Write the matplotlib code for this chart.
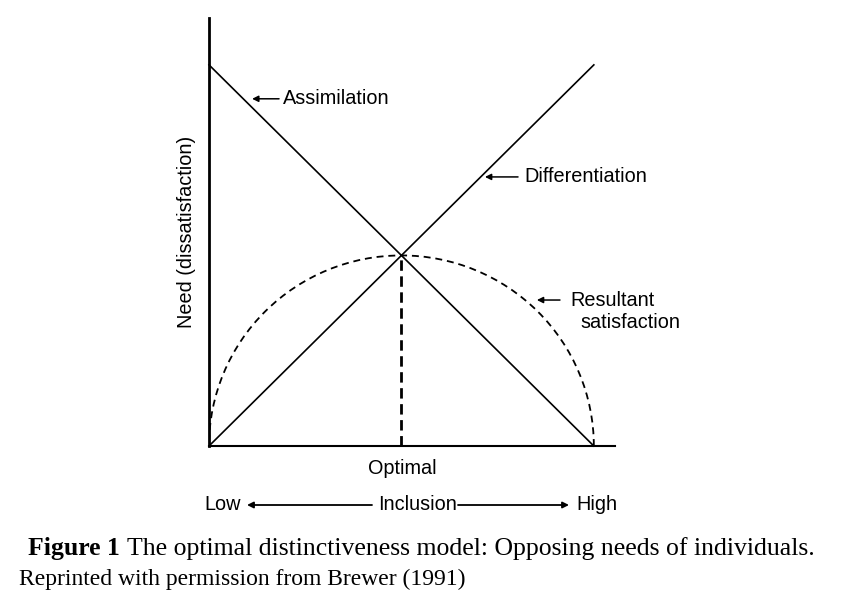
import matplotlib
matplotlib.use("Agg")
import matplotlib.pyplot as plt
from matplotlib.patches import Arc

plt.rcParams["font.family"] = ["Liberation Sans", "DejaVu Sans"]
plt.rcParams["lines.scale_dashes"] = False

# data (conceptual model, inclusion from low to high)
inclusion = [0, 10]
assimilation = [10, 0]
differentiation = [0, 10]
optimal_x = 5
optimal_y = 5
satisfaction_peak = 5

W, H = 852, 600


def px(x, y):
    # figure pixel (top-left origin) -> figure fraction
    return x / W, 1 - y / H


fig = plt.figure(figsize=(8.52, 6.0), dpi=100)
ax = fig.add_axes([209 / W, (H - 446) / H, (615 - 209) / W, (446 - 18) / H])
ax.set_xlim(0, 10.55)
ax.set_ylim(0, 11.23)
for s in ["top", "right"]:
    ax.spines[s].set_visible(False)
ax.spines["left"].set_linewidth(2.0)
ax.spines["bottom"].set_linewidth(1.5)
ax.set_xticks([])
ax.set_yticks([])

ax.plot(inclusion, assimilation, color="black", lw=1.2, clip_on=False)
ax.plot(inclusion, differentiation, color="black", lw=1.2, clip_on=False)
ax.plot([optimal_x, optimal_x], [0, optimal_y], color="black", lw=2.0,
        dashes=(7.5, 4))
arc = Arc((optimal_x, 0), inclusion[1] - inclusion[0], 2 * satisfaction_peak,
          theta1=0, theta2=180, color="black", lw=1.3, linestyle=(0, (5, 3.5)))
ax.add_patch(arc)

arrow = dict(arrowstyle="-|>", color="black", lw=1.1, mutation_scale=9,
             shrinkA=0, shrinkB=0)
fs = 14.3

ax.annotate("", xy=(1.12, 9.11), xytext=(1.82, 9.11), arrowprops=arrow)
ax.text(1.92, 9.11, "Assimilation", fontsize=fs, va="center", ha="left")

ax.annotate("", xy=(7.17, 7.06), xytext=(8.03, 7.06), arrowprops=arrow)
ax.text(8.2, 7.06, "Differentiation", fontsize=fs, va="center", ha="left")

ax.annotate("", xy=(8.52, 3.83), xytext=(9.12, 3.83), arrowprops=arrow)
ax.text(9.38, 3.83, "Resultant", fontsize=fs, va="center", ha="left")
ax.text(9.64, 3.25, "satisfaction", fontsize=fs, va="center", ha="left")

fig.text(*px(186, 232), "Need (dissatisfaction)", fontsize=fs, rotation=90,
         ha="center", va="center")
fig.text(*px(402, 469), "Optimal", fontsize=fs, ha="center", va="center")

fig.text(*px(204, 505), "Low", fontsize=fs, ha="left", va="center")
fig.text(*px(418, 505), "Inclusion", fontsize=fs, ha="center", va="center")
fig.text(*px(617, 505), "High", fontsize=fs, ha="right", va="center")
bottom_arrow = dict(arrowstyle="-|>", color="black", lw=1.3, mutation_scale=9,
                    shrinkA=0, shrinkB=0)
ax.annotate("", xy=px(247, 505), xytext=px(372, 505), xycoords="figure fraction",
            textcoords="figure fraction", arrowprops=bottom_arrow)
ax.annotate("", xy=px(569, 505), xytext=px(458, 505), xycoords="figure fraction",
            textcoords="figure fraction", arrowprops=bottom_arrow)

serif = ["Liberation Serif", "DejaVu Serif"]
fig.text(*px(28, 549), "Figure 1", fontsize=18.5, family=serif, weight="bold",
         ha="left", va="center")
fig.text(*px(127, 549), "The optimal distinctiveness model: Opposing needs of individuals.",
         fontsize=18.5, family=serif, ha="left", va="center")
fig.text(*px(19, 579), "Reprinted with permission from Brewer (1991)",
         fontsize=17, family=serif, ha="left", va="center")

fig.savefig("out.png", dpi=100, facecolor="white")
